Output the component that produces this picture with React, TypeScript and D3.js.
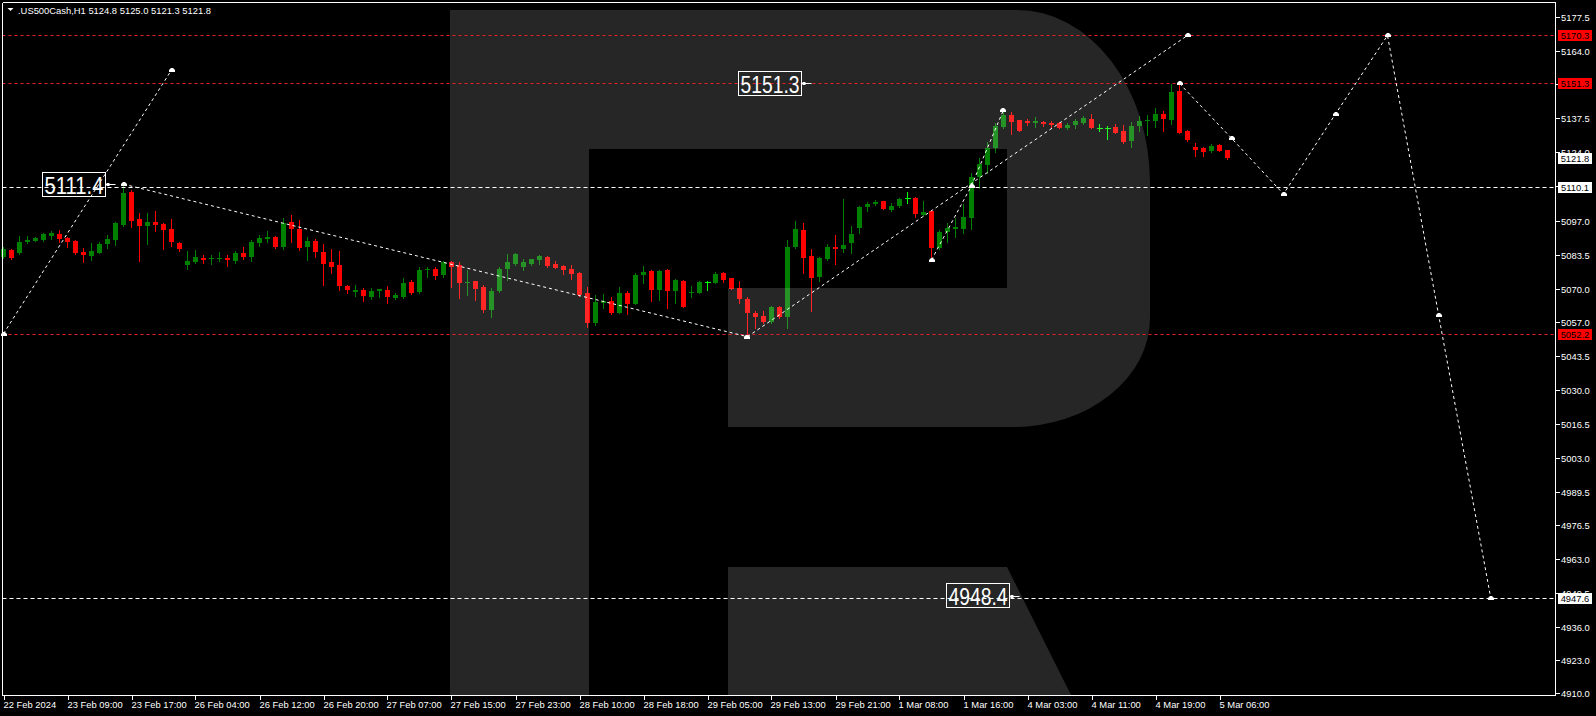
import React from 'react';
import * as d3 from 'd3';

// ---------- DATA ----------
const opens = [5082.7,5085.3,5084.3,5088.5,5089.0,5089.3,5090.9,5091.7,5090.1,5088.9,5084.5,5083.0,5084.3,5087.7,5089.3,5095.2,5108.4,5097.5,5095.0,5096.6,5095.8,5093.7,5088.1,5079.4,5080.6,5082.3,5081.9,5081.9,5082.3,5081.0,5084.2,5082.7,5088.1,5089.7,5090.5,5086.4,5096.4,5093.7,5086.5,5088.9,5084.5,5080.6,5079.4,5071.2,5068.8,5069.5,5066.7,5069.2,5069.5,5066.4,5066.9,5072.7,5068.8,5077.4,5077.7,5075.6,5080.7,5079.3,5072.4,5073.1,5070.7,5061.6,5069.1,5077.8,5079.9,5078.7,5079.8,5081.4,5082.6,5079.8,5079.0,5077.8,5076.4,5068.2,5056.5,5064.2,5065.1,5060.5,5068.4,5064.1,5075.6,5077.0,5069.5,5077.4,5069.2,5073.1,5068.2,5068.4,5072.5,5072.4,5076.4,5074.1,5070.2,5065.9,5060.5,5059.2,5056.9,5062.7,5058.9,5086.5,5093.3,5083.0,5074.8,5081.8,5086.5,5085.7,5088.2,5094.2,5102.5,5103.7,5104.7,5101.3,5102.9,5106.0,5106.0,5099.2,5100.8,5086.3,5092.5,5093.5,5093.8,5098.1,5114.1,5119.1,5125.7,5134.2,5138.8,5136.8,5136.5,5135.8,5136.1,5135.7,5135.7,5133.8,5134.8,5135.7,5137.2,5133.8,5133.5,5134.2,5132.6,5128.5,5134.5,5136.3,5136.4,5139.2,5136.8,5148.3,5132.5,5126.1,5125.9,5124.5,5126.9,5124.8];
const highs = [5086.5,5085.6,5090.9,5090.9,5090.6,5091.9,5092.7,5093.3,5090.6,5089.3,5086.0,5088.0,5088.5,5091.3,5096.6,5111.4,5109.1,5100.1,5100.1,5100.9,5096.2,5097.6,5088.5,5085.1,5085.3,5083.4,5083.4,5084.5,5083.4,5084.9,5086.4,5089.3,5091.3,5092.9,5090.9,5097.9,5099.2,5097.2,5090.6,5089.7,5087.7,5085.7,5084.9,5071.5,5071.4,5070.2,5070.2,5069.9,5071.0,5068.4,5074.1,5073.5,5078.7,5078.5,5078.7,5081.1,5081.1,5080.7,5077.4,5073.1,5071.5,5070.2,5078.7,5083.6,5084.3,5081.7,5081.9,5083.2,5082.8,5081.0,5079.2,5079.4,5076.6,5070.8,5067.5,5067.9,5066.6,5070.8,5069.1,5076.1,5079.0,5077.4,5077.4,5077.7,5074.0,5073.5,5071.1,5073.1,5073.1,5076.8,5076.8,5074.3,5073.1,5066.6,5061.3,5061.3,5063.2,5063.2,5089.3,5096.8,5095.9,5085.7,5082.7,5087.6,5091.3,5105.5,5094.8,5102.9,5104.5,5105.1,5104.9,5104.1,5106.0,5108.2,5106.4,5104.7,5101.2,5093.1,5095.9,5097.9,5103.6,5115.7,5121.6,5128.2,5135.5,5140.8,5139.9,5137.0,5137.2,5137.9,5136.5,5136.5,5136.0,5135.5,5137.1,5138.4,5139.2,5135.1,5134.4,5135.2,5134.8,5136.0,5138.4,5138.8,5141.5,5140.4,5150.9,5151.3,5132.9,5127.6,5126.0,5127.2,5127.3,5125.0];
const lows = [5082.2,5081.7,5083.9,5088.0,5088.8,5089.0,5089.8,5088.6,5086.6,5083.8,5080.7,5081.4,5084.0,5086.0,5087.3,5094.8,5094.6,5081.1,5087.7,5093.0,5085.7,5086.9,5085.1,5077.8,5080.1,5080.3,5079.8,5081.1,5079.0,5080.3,5081.8,5081.0,5086.9,5088.5,5086.1,5085.6,5088.5,5085.3,5081.4,5082.6,5071.5,5076.2,5069.5,5068.4,5067.2,5065.3,5065.8,5066.9,5064.5,5066.1,5066.4,5067.9,5068.2,5074.8,5073.9,5074.8,5070.8,5066.4,5067.5,5065.5,5060.9,5058.9,5068.8,5073.5,5079.4,5077.4,5079.4,5079.8,5078.7,5078.1,5075.8,5073.7,5067.1,5055.0,5055.6,5062.3,5059.9,5060.3,5059.9,5063.8,5072.2,5065.3,5065.5,5062.5,5064.5,5062.7,5066.9,5068.2,5069.5,5072.2,5072.8,5069.7,5064.5,5051.0,5054.3,5056.3,5056.3,5058.3,5054.3,5086.0,5076.1,5061.3,5073.2,5081.4,5079.8,5084.7,5084.3,5092.2,5100.9,5103.2,5101.5,5100.9,5102.5,5104.1,5098.5,5098.8,5081.4,5085.9,5088.6,5090.6,5092.2,5093.8,5109.8,5115.7,5124.3,5133.8,5131.3,5132.4,5134.8,5134.2,5134.6,5133.9,5133.6,5133.3,5133.8,5135.1,5133.6,5132.5,5129.3,5131.6,5127.6,5126.3,5132.5,5130.9,5134.2,5132.6,5135.2,5131.6,5128.5,5122.7,5122.7,5124.1,5124.4,5121.3];
const closes = [5085.6,5082.3,5088.5,5089.3,5090.0,5091.7,5092.1,5089.7,5088.6,5084.3,5083.4,5084.9,5087.7,5089.7,5096.2,5108.0,5096.8,5094.8,5096.4,5095.2,5093.3,5088.5,5085.6,5081.1,5082.6,5081.5,5082.3,5082.3,5081.5,5084.2,5082.6,5088.5,5090.1,5090.5,5086.5,5096.2,5093.7,5086.1,5089.0,5084.5,5079.8,5078.6,5071.1,5069.6,5069.5,5067.1,5069.1,5069.9,5066.7,5067.6,5072.4,5068.4,5077.4,5077.9,5075.2,5080.6,5078.7,5072.4,5072.7,5070.0,5061.6,5069.1,5077.8,5080.6,5083.8,5080.7,5081.7,5083.0,5079.1,5078.3,5077.4,5075.8,5067.5,5056.5,5064.9,5065.1,5060.5,5068.4,5063.8,5075.4,5076.6,5069.5,5077.0,5069.2,5073.5,5062.9,5068.8,5072.7,5072.5,5075.8,5073.5,5069.9,5065.9,5060.5,5058.9,5056.9,5062.7,5058.9,5086.4,5093.5,5082.3,5074.4,5082.2,5086.5,5085.7,5087.3,5091.8,5102.5,5103.7,5104.5,5101.7,5102.8,5105.5,5106.0,5099.7,5100.4,5086.3,5092.5,5094.2,5094.6,5098.4,5114.3,5119.4,5125.7,5134.5,5138.8,5136.1,5132.6,5135.5,5136.3,5135.2,5134.8,5133.8,5134.8,5136.5,5137.7,5133.8,5133.8,5133.5,5131.8,5128.2,5134.5,5136.4,5136.8,5139.2,5137.2,5147.9,5131.8,5128.9,5124.9,5124.3,5126.5,5124.6,5121.8];

const timeLabels = ['22 Feb 2024','23 Feb 09:00','23 Feb 17:00','26 Feb 04:00','26 Feb 12:00','26 Feb 20:00','27 Feb 07:00','27 Feb 15:00','27 Feb 23:00','28 Feb 10:00','28 Feb 18:00','29 Feb 05:00','29 Feb 13:00','29 Feb 21:00','1 Mar 08:00','1 Mar 16:00','4 Mar 03:00','4 Mar 11:00','4 Mar 19:00','5 Mar 06:00'];
const barsPerTimeLabel = 8;

const priceTicks = ['5177.5','5164.0','5151.0','5137.5','5124.0','5110.5','5097.0','5083.5','5070.0','5057.0','5043.5','5030.0','5016.5','5003.0','4989.5','4976.5','4963.0','4949.5','4936.0','4923.0','4910.0'];

const hLinePrices = [5170.3, 5151.3, 5110.1, 5052.2, 4947.6];
const hLineKinds = ['red', 'red', 'white', 'red', 'white'];

const currentPrice = 5121.8;

// forecast / trend lines: [barIndex, price]
const forecast1 = [[0, 5052.2], [21, 5156.6]];
const forecast2 = [[15, 5111.4], [93, 5051.0]];
const forecast3 = [[93, 5051.0], [148, 5170.3]];
const forecast4 = [[116, 5081.4], [121, 5110.8], [125, 5140.8]];
const forecast5 = [[147, 5151.3], [153.5, 5129.6], [160, 5107.5], [166.5, 5139.2], [173, 5170.3], [179.4, 5059.4], [185.9, 4947.6]];

const labelTexts = ['5111.4', '5151.3', '4948.4'];
const labelBars = [14, 101, 127];

const title = '.US500Cash,H1  5124.8 5125.0 5121.3 5121.8';

// ---------- CHART ----------
const W = 1596, H = 716;
const L = 2.5, T = 2.5, R = 1555.5, B = 695.5;
const FONT = '"Liberation Sans", Arial, sans-serif';
const GREEN = '#008000', RED = '#ff0000', LIME = '#00ff00';

export default function App() {
  const x = d3.scaleLinear().domain([0, 153]).range([3.5, 1227.5]);
  const y = d3.scaleLinear().domain([4910, 5177.5]).range([692.7, 17.3]);
  const line = d3.line<number[]>().x(d => x(d[0])).y(d => y(d[1]));
  const forecasts = [forecast1, forecast2, forecast3, forecast4, forecast5];

  const marker = (px: number, py: number, key: string) => (
    <path key={key} d={`M${px - 3},${py + 2} h6 v-2 l-2,-2 h-2 l-2,2 z`} fill="#fff" />
  );

  return (
    <svg width={W} height={H} style={{ position: 'absolute', left: 0, top: 0, background: '#000', display: 'block' }}>
      <rect x={0} y={0} width={W} height={H} fill="#000" />

      {/* candles */}
      <g shapeRendering="crispEdges">
        {opens.map((o, i) => {
          const c = closes[i], h = highs[i], l = lows[i];
          const cx = x(i);
          const doji = o === c;
          const col = doji ? LIME : c > o ? GREEN : RED;
          const yt = Math.round(y(Math.max(o, c)));
          const yb = Math.round(y(Math.min(o, c)));
          return (
            <g key={i}>
              <line x1={cx} x2={cx} y1={Math.round(y(h))} y2={Math.round(y(l)) + 1} stroke={col} strokeWidth={1} />
              {doji ? (
                <line x1={cx - 3} x2={cx + 3} y1={yt + 0.5} y2={yt + 0.5} stroke={col} strokeWidth={1} />
              ) : (
                <rect x={cx - 2.5} y={yt} width={5} height={Math.max(1, yb - yt)} fill={col} />
              )}
            </g>
          );
        })}
      </g>

      {/* logo watermark */}
      <g fill="#ffffff" fillOpacity={0.15} shapeRendering="crispEdges">
        <rect x={450} y={10} width={139} height={685} />
        <path d="M589,10 L1017,10 A133,173 0 0 1 1150,183 L1150,318 A137,109 0 0 1 1013,427 L728,427 L728,288 L1007,288 L1007,149 L589,149 Z" shapeRendering="auto" />
        <path d="M728,567 L1007,567 L1071,695 L728,695 Z" shapeRendering="auto" />
      </g>

      {/* horizontal lines */}
      {hLinePrices.map((p, i) => {
        const yy = Math.round(y(p)) + 0.5;
        return (
          <line key={'h' + i} x1={L} x2={R} y1={yy} y2={yy}
            stroke={hLineKinds[i] === 'red' ? '#e8202a' : '#ffffff'} strokeWidth={1}
            strokeDasharray={hLineKinds[i] === 'red' ? '3,3' : '4,3'} />
        );
      })}

      {/* forecast lines */}
      {forecasts.map((f, i) => (
        <path key={'f' + i} d={line(f as number[][]) || ''} fill="none" stroke="#fff" strokeWidth={1} strokeDasharray="3,3" />
      ))}
      {forecasts.map((f, i) => f.map((pt, j) => marker(Math.round(x(pt[0])), Math.round(y(pt[1])), `m${i}-${j}`)))}

      {/* text labels */}
      {labelTexts.map((t, i) => {
        const ax = x(labelBars[i]);
        const ay = y(parseFloat(t));
        const bx = ax - 10 - 63.5;
        const by = ay - 12.3;
        return (
          <g key={'lbl' + i}>
            <line x1={ax - 10} x2={ax} y1={Math.round(ay) + 0.5} y2={Math.round(ay) + 0.5} stroke="#fff" />
            <rect x={ax - 9} y={Math.round(ay) - 1} width={3} height={3} fill="#fff" />
            <rect x={Math.round(bx) + 0.5} y={Math.round(by) + 0.5} width={63} height={24} fill="none" stroke="#fff" strokeWidth={1} />
            <text x={Math.round(bx) + 32} y={Math.round(by) + 22} textAnchor="middle" fontFamily={FONT} fontSize={24}
              fill="#fff" textLength={59} lengthAdjust="spacingAndGlyphs">{t}</text>
          </g>
        );
      })}

      {/* frame */}
      <g stroke="#fff" strokeWidth={1} fill="none" shapeRendering="crispEdges">
        <line x1={L} x2={R} y1={T} y2={T} />
        <line x1={L} x2={L} y1={T} y2={B} />
        <line x1={R} x2={R} y1={T} y2={B} />
        <line x1={L} x2={R} y1={B} y2={B} />
      </g>

      {/* right axis */}
      <g fontFamily={FONT} fontSize={9.4} fill="#fff">
        {priceTicks.map((t, i) => {
          const yy = Math.round(y(parseFloat(t))) + 0.5;
          return (
            <g key={'pt' + i}>
              <line x1={R} x2={R + 4} y1={yy} y2={yy} stroke="#fff" shapeRendering="crispEdges" />
              <text x={1561} y={yy + 3.5}>{t}</text>
            </g>
          );
        })}
      </g>

      {/* axis price boxes */}
      {[...hLinePrices, currentPrice].map((p, i) => {
        const isRed = i < hLinePrices.length && hLineKinds[i] === 'red';
        const yy = Math.round(y(p));
        return (
          <g key={'pb' + i}>
            <rect x={1558} y={yy - 5} width={34} height={11} fill={isRed ? '#ff0000' : '#ffffff'} />
            <text x={1575} y={yy + 3.5} textAnchor="middle" fontFamily={FONT} fontSize={9.4} fill="#000">{p.toFixed(1)}</text>
          </g>
        );
      })}

      {/* time axis */}
      <g fontFamily={FONT} fontSize={9.4} fill="#fff">
        {timeLabels.map((t, i) => {
          const xx = Math.round(x(i * barsPerTimeLabel)) + 0.5;
          return (
            <g key={'tl' + i}>
              <line x1={xx} x2={xx} y1={B} y2={B + 4} stroke="#fff" shapeRendering="crispEdges" />
              <text x={xx - 1} y={708}>{t}</text>
            </g>
          );
        })}
      </g>

      {/* title */}
      <path d="M7.5,8 L13.5,8 L10.5,11 Z" fill="#fff" />
      <text x={18} y={14} fontFamily={FONT} fontSize={9.5} fill="#fff" textLength={193} lengthAdjust="spacingAndGlyphs">{title}</text>
    </svg>
  );
}
